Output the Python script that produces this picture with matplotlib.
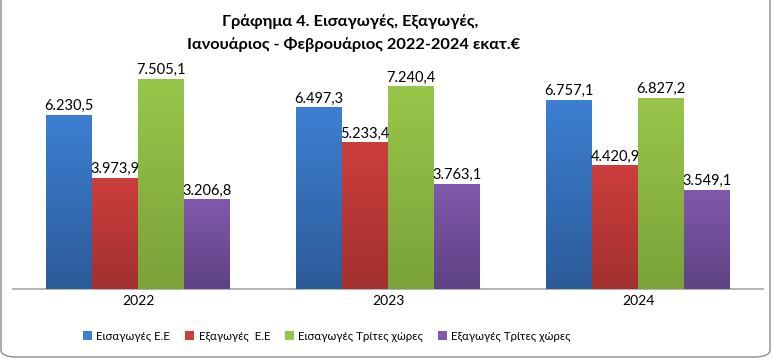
import matplotlib
matplotlib.use("Agg")
import matplotlib.pyplot as plt
import numpy as np
from matplotlib.colors import LinearSegmentedColormap
from matplotlib.patches import FancyBboxPatch, Patch

plt.rcParams['font.family'] = ['Lato', 'Noto Sans', 'DejaVu Sans']

years = ["2022", "2023", "2024"]
series = ["Εισαγωγές Ε.Ε", "Εξαγωγές  Ε.Ε", "Εισαγωγές Τρίτες χώρες", "Εξαγωγές Τρίτες χώρες"]
imports_eu = [6230.5, 6497.3, 6757.1]
exports_eu = [3973.9, 5233.4, 4420.9]
imports_third = [7505.1, 7240.4, 6827.2]
exports_third = [3206.8, 3763.1, 3549.1]
values = [imports_eu, exports_eu, imports_third, exports_third]

# top colour, bottom colour for each series
colors = [("#3D7FD2", "#2C5B9A"), ("#CC3E3C", "#A2302F"),
          ("#98C64A", "#7AA23A"), ("#8059AC", "#5E4283")]


def fmt(v):
    s = f"{v:,.1f}"
    return s.replace(",", "X").replace(".", ",").replace("X", ".")


fig = plt.figure(figsize=(7.73, 3.59), dpi=100)
ax = fig.add_axes([13 / 773, 70 / 359, 750 / 773, 224 / 359])

x = np.arange(len(years))
w = 0.184
for k, vals in enumerate(values):
    pos = x + (k - 1.5) * w
    bars = ax.bar(pos, vals, width=w, color=colors[k][0], edgecolor="none", zorder=2)
    cmap = LinearSegmentedColormap.from_list("g%d" % k, [colors[k][1], colors[k][0]])
    for b, v in zip(bars, vals):
        grad = np.linspace(0, 1, 100).reshape(-1, 1)
        im = ax.imshow(grad, cmap=cmap, origin="lower", aspect="auto",
                       extent=[b.get_x(), b.get_x() + w, 0, v], zorder=3)
        im.set_clip_path(b)
        ax.text(b.get_x() + w / 2, v + 60, fmt(v), ha="center", va="bottom",
                fontsize=10.5, color="black", zorder=4)

ax.set_xlim(-0.5, 2.5)
ax.set_ylim(0, 8000)
ax.set_xticks(x)
ax.set_xticklabels(years, fontsize=10)
ax.tick_params(axis="x", length=0, pad=4)
ax.set_yticks([])
for s in ["top", "left", "right"]:
    ax.spines[s].set_visible(False)
ax.spines["bottom"].set_color("#A6A6A6")
ax.spines["bottom"].set_linewidth(1.2)

fig.text(350 / 773, 1 - 22 / 359, "Γράφημα 4. Εισαγωγές, Εξαγωγές,", ha="center",
         va="center", fontsize=11.8, fontweight="bold")
fig.text(354 / 773, 1 - 44 / 359, "Ιανουάριος - Φεβρουάριος 2022-2024 εκατ.€", ha="center",
         va="center", fontsize=11.8, fontweight="bold")

handles = [Patch(facecolor=c[0], edgecolor="none") for c in colors]
fig.legend(handles, series, loc="center", bbox_to_anchor=(327 / 773, 1 - 336 / 359),
           ncol=4, frameon=False, handlelength=0.8, handleheight=0.8,
           handletextpad=0.35, columnspacing=1.3, fontsize=8.3)

border = FancyBboxPatch((1 / 773, 2 / 359), 769 / 773, 1.2,
                        boxstyle="round,pad=0,rounding_size=0.02",
                        transform=fig.transFigure, facecolor="none",
                        edgecolor="#8C8C8C", linewidth=1.0, clip_on=False)
fig.patches.append(border)

fig.savefig("out.png", dpi=100)
